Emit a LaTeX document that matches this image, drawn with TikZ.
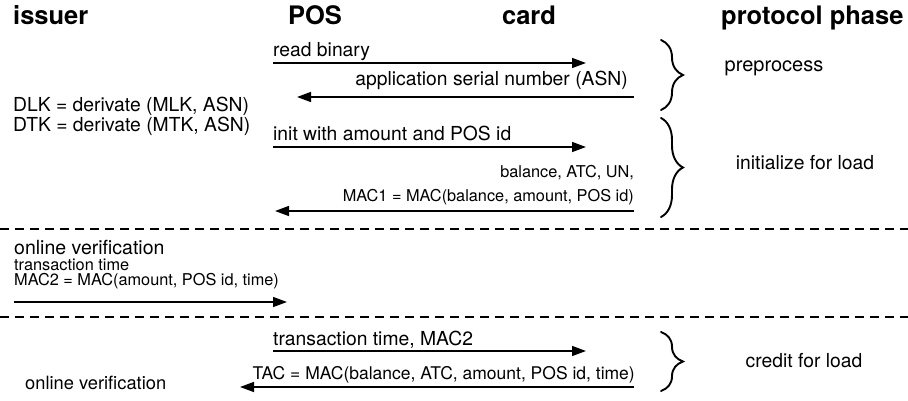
\documentclass[tikz,border=0pt]{standalone}
\usepackage{fontspec}
\setmainfont{TeX Gyre Heros}
\usepackage{tikz}
\usetikzlibrary{arrows.meta,decorations.pathreplacing}
\tikzset{%
  header/.style={
    font=\fontsize{25.5}{28}\selectfont\bfseries,
    inner sep=0pt
  },
  message/.style={
    font=\fontsize{19.3}{23}\selectfont,
    inner sep=0pt
  },
  message small/.style={
    font=\fontsize{16.3}{19}\selectfont,
    inner sep=0pt
  },
  flow/.style={
    line width=1.5pt
  },
  separator/.style={
    line width=1.2pt,
    dash pattern=on 9pt off 6pt
  },
  phase brace/.style={
    line width=1.9pt,
    line cap=round,
    decorate,
    decoration={brace, amplitude=22pt}
  },
}

\begin{document}
\begin{tikzpicture}[x=1pt, y=-1pt, >={Triangle[length=14pt, width=10pt]}]

        \useasboundingbox (0,0) rectangle (908,401);

        % headers
        \node [header, anchor=base west] (issuer) at (13,25) {issuer};
        \node [header, anchor=base] (pos) at (315,25) {POS};
        \node [header, anchor=base] (card) at (529,25) {card};
        \node [header, anchor=base west] (phase) at (721,25) {protocol phase};

        % POS -> card
        \foreach \y/\l [count=\i] in {63/read binary, 147/init with amount and POS id, 351/{transaction time, MAC2}}
        {
        \coordinate (req\i-a) at (273,\y);
        \coordinate (req\i-b) at (586,\y);
        \draw [flow, ->] (req\i-a) -- (req\i-b);
        \node [message, anchor=base west] (req\i) at ([yshift=6pt]req\i-a) {\l};
        }

        % card -> POS
        \coordinate (asn-a) at (634,97);
        \coordinate (asn-b) at (297,97);
        \draw [flow, ->] (asn-a) -- (asn-b);
        \node [message, anchor=base east] (asn) at (628,86) {application serial number (ASN)};

        \coordinate (mac1-a) at (634,211);
        \coordinate (mac1-b) at (275,211);
        \draw [flow, ->] (mac1-a) -- (mac1-b);
        \node [message small, anchor=base east] (bal) at (634,178) {balance, ATC, UN,};
        \node [message small, anchor=base east] (mac1) at (634,201) {MAC1 = MAC(balance, amount, POS id)};

        \coordinate (tac-a) at (634,387);
        \coordinate (tac-b) at (240,387);
        \draw [flow, ->] (tac-a) -- (tac-b);
        \node [message, font=\fontsize{17.5}{21}\selectfont, anchor=base east] (tac) at (635,379) {TAC = MAC(balance, ATC, amount, POS id, time)};

        % issuer
        \node [message, anchor=base west] (dlk) at (13,112) {DLK = derivate (MLK, ASN)};
        \node [message, anchor=base west] (dtk) at (13,132) {DTK = derivate (MTK, ASN)};

        \node [message, font=\fontsize{19.5}{23}\selectfont, anchor=base west] (online1) at (14,254) {online verification};
        \node [message small, anchor=base west] (ttime) at (14,270) {transaction time};
        \node [message small, anchor=base west] (mac2) at (14,285) {MAC2 = MAC(amount, POS id, time)};
        \coordinate (mac2-a) at (14,302);
        \coordinate (mac2-b) at (287,302);
        \draw [flow, ->] (mac2-a) -- (mac2-b);

        \node [message, font=\fontsize{18.3}{22}\selectfont, anchor=base west] (online2) at (25,389) {online verification};

        % separators
        \draw [separator] (0,229) -- (908,229);
        \draw [separator] (0,317) -- (908,317);

        % phases
        \draw [phase brace] (661,40) -- (661,110);
        \draw [phase brace] (661,118) -- (661,217);
        \draw [phase brace] (661,332) -- (661,391);

        \node [message, font=\fontsize{20}{24}\selectfont, anchor=base] (pre) at (774,72) {preprocess};
        \node [message, anchor=base] (init) at (805,170) {initialize for load};
        \node [message, anchor=base] (credit) at (804,367) {credit for load};

    \end{tikzpicture}
\end{document}
